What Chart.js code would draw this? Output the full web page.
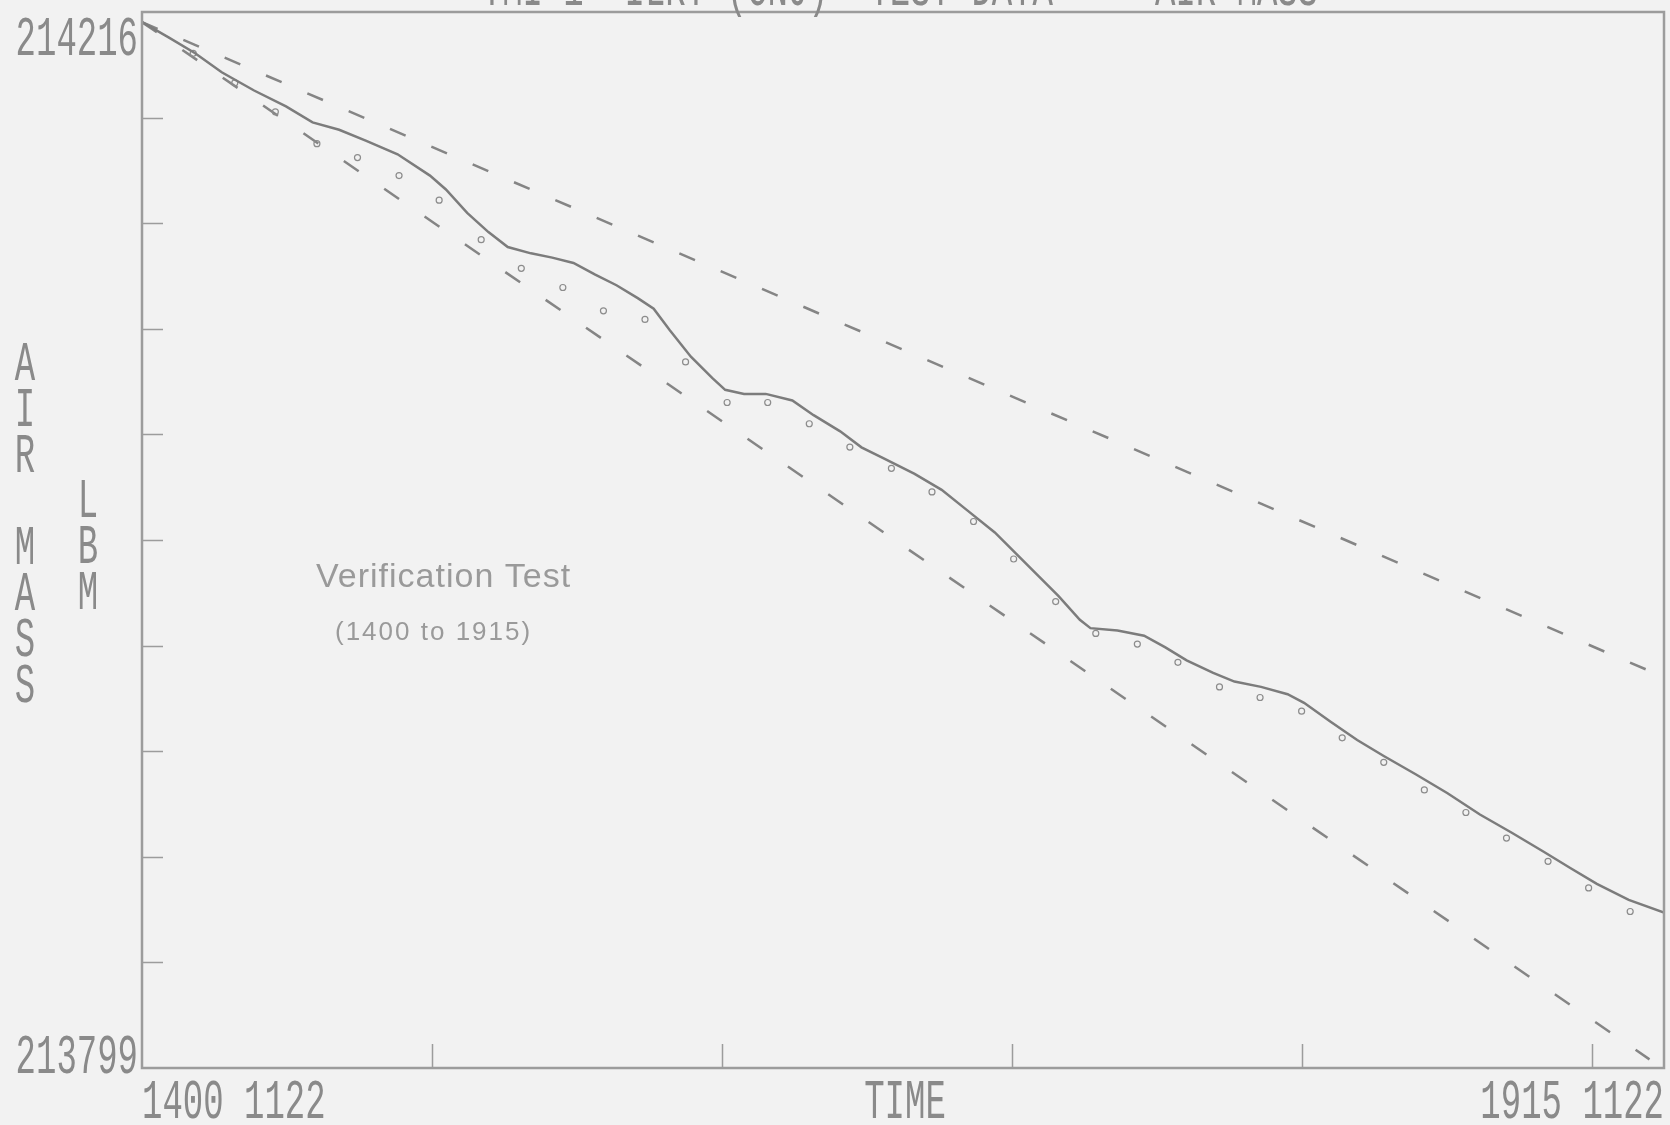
<!DOCTYPE html>
<html>
<head>
<meta charset="utf-8">
<script src="https://cdn.jsdelivr.net/npm/chart.js@4.4.1/dist/chart.umd.min.js"></script>
<style>
  html, body { margin: 0; padding: 0; background: #f2f2f2; }
  #wrap { width: 1670px; height: 1125px; }
</style>
</head>
<body>
<div id="wrap"><canvas id="c" width="1670" height="1125"></canvas></div>
<script>
// ---------- text ----------
const titleText = "TMI 1  ILRT (CNJ)  TEST DATA  -  AIR MASS";
const yAxisTitle = "AIR MASS";
const yUnitTitle = "LBM";
const xAxisTitle = "TIME";
const xStartLabel = "1400 1122";
const xEndLabel = "1915 1122";
const noteTitle = "Verification Test";
const noteSub = "(1400 to 1915)";

// ---------- axes (x in minutes after 1400) ----------
const yMin = 213799;
const yMax = 214216;
const xMin = 0;
const xMax = 315;
const yTopLabel = "214216";
const yBottomLabel = "213799";
const xTickValues = [60, 120, 180, 240, 300];
const yTickValues = [213840.7, 213882.4, 213924.1, 213965.8, 214007.5, 214049.2, 214090.9, 214132.6, 214174.3];

// ---------- measured air mass (solid trace) ----------
const measuredTime = [0, 5.5, 11.0, 16.5, 23.2, 29.8, 35.3, 40.8, 46.3, 52.9, 59.6, 62.9, 67.3, 71.7, 75.7,
  80.5, 84.9, 89.3, 93.8, 98.2, 102.6, 105.9, 109.2, 113.6, 118.0, 120.7, 124.6, 129.1, 134.6, 139.0,
  144.5, 148.9, 153.3, 159.9, 165.5, 171.0, 176.5, 180.9, 185.3, 189.7, 194.1, 196.3, 201.9, 207.4,
  211.8, 216.2, 221.7, 226.1, 231.6, 237.1, 240.5, 246.0, 251.5, 257.0, 263.6, 270.2, 276.9, 283.5,
  290.1, 295.6, 301.1, 307.7, 315.0];
const measuredMass = [214212.0, 214206.0, 214199.7, 214192.2, 214185.0, 214178.7, 214172.4, 214169.5, 214165.2,
  214159.8, 214151.4, 214145.9, 214136.7, 214129.1, 214123.2, 214120.7, 214119.0, 214116.9, 214112.3,
  214108.1, 214103.0, 214098.8, 214090.4, 214079.9, 214071.5, 214066.8, 214065.2, 214065.2, 214062.6,
  214056.8, 214050.4, 214044.1, 214039.9, 214033.6, 214027.3, 214018.9, 214010.5, 214002.1, 213993.7,
  213985.3, 213976.0, 213972.7, 213971.8, 213969.7, 213965.1, 213960.0, 213955.0, 213951.6, 213949.5,
  213946.6, 213943.2, 213935.7, 213928.5, 213922.2, 213915.0, 213907.5, 213899.1, 213891.9, 213884.4,
  213878.0, 213871.7, 213865.4, 213860.4];

// ---------- sampled points (small markers) ----------
const pointTime = [10.6, 19.2, 27.6, 36.2, 44.6, 53.2, 61.5, 70.2, 78.5, 87.1, 95.5, 104.1, 112.5, 121.1,
  129.5, 138.1, 146.5, 155.1, 163.5, 172.1, 180.4, 189.1, 197.4, 206.0, 214.4, 223.0, 231.4, 240.0,
  248.4, 257.0, 265.4, 274.0, 282.4, 291.0, 299.4, 308.0];
const pointMass = [214199.7, 214188.0, 214176.6, 214164.0, 214158.5, 214151.4, 214141.7, 214126.1, 214114.8,
  214107.2, 214098.0, 214094.6, 214077.8, 214061.8, 214061.8, 214053.4, 214044.2, 214035.8, 214026.5,
  214014.8, 214000.0, 213983.2, 213970.6, 213966.4, 213959.2, 213949.5, 213945.3, 213939.9, 213929.4,
  213919.7, 213908.8, 213899.9, 213889.8, 213880.6, 213870.1, 213860.8];

// ---------- limit lines (dashed) ----------
const limitTime = [0, 312];
const upperLimitMass = [214212.0, 213955.8];
const lowerLimitMass = [214212.0, 213802.4];

const toXY = (xs, ys) => xs.map((x, i) => ({ x: x, y: ys[i] }));

const INK = '#8a8a8a';
const MONO = '"Liberation Mono", "DejaVu Sans Mono", monospace';

function stretchText(ctx, text, x, y, align, sy) {
  ctx.save();
  ctx.translate(x, y);
  ctx.scale(1, sy);
  ctx.textAlign = align;
  ctx.textBaseline = 'alphabetic';
  ctx.fillText(text, 0, 0);
  ctx.restore();
}

const decor = {
  id: 'decor',
  beforeDraw(chart) {
    const ctx = chart.ctx;
    ctx.save();
    ctx.fillStyle = '#f2f2f2';
    ctx.fillRect(0, 0, chart.width, chart.height);
    ctx.restore();
  },
  afterDatasetsDraw(chart) {
    const ctx = chart.ctx;
    const { left, right, top, bottom } = chart.chartArea;
    const xs = chart.scales.x, ys = chart.scales.y;
    ctx.save();
    // frame
    ctx.strokeStyle = '#9c9c9c';
    ctx.lineWidth = 2.5;
    ctx.strokeRect(left, top, right - left, bottom - top);
    // inward tick marks
    ctx.lineWidth = 1.5;
    ctx.beginPath();
    yTickValues.forEach(v => {
      const py = Math.round(ys.getPixelForValue(v)) + 0.5;
      ctx.moveTo(left, py); ctx.lineTo(left + 21, py);
    });
    xTickValues.forEach(v => {
      const px = Math.round(xs.getPixelForValue(v)) + 0.5;
      ctx.moveTo(px, bottom); ctx.lineTo(px, bottom - 24);
    });
    ctx.stroke();

    // labels
    ctx.fillStyle = INK;
    ctx.font = '34px ' + MONO;
    stretchText(ctx, yTopLabel, left - 4, ys.getPixelForValue(yMax) + 43, 'right', 1.65);
    stretchText(ctx, yBottomLabel, left - 4, ys.getPixelForValue(yMin) + 5, 'right', 1.65);
    stretchText(ctx, xStartLabel, xs.getPixelForValue(xMin), bottom + 50, 'left', 1.65);
    stretchText(ctx, xEndLabel, xs.getPixelForValue(xMax), bottom + 50, 'right', 1.65);
    stretchText(ctx, xAxisTitle, (left + right) / 2 + 2, bottom + 50, 'center', 1.65);
    // vertical stacked axis titles
    [...yAxisTitle].forEach((ch, i) => stretchText(ctx, ch, 25, 380 + i * 46, 'center', 1.65));
    [...yUnitTitle].forEach((ch, i) => stretchText(ctx, ch, 88, 517 + i * 46, 'center', 1.65));
    // title (cut off at the top edge, as in the scan)
    ctx.font = '34px ' + MONO;
    stretchText(ctx, titleText, 900, 5, 'center', 1.65);

    // annotation
    ctx.fillStyle = '#9a9a9a';
    ctx.font = '34px "Liberation Sans", Arial, sans-serif';
    ctx.letterSpacing = '1px';
    ctx.textAlign = 'left';
    ctx.fillText(noteTitle, 316, 587);
    ctx.font = '26px "Liberation Sans", Arial, sans-serif';
    ctx.letterSpacing = '2px';
    ctx.fillText(noteSub, 335, 640);
    ctx.letterSpacing = '0px';
    ctx.restore();
  }
};

new Chart(document.getElementById('c'), {
  type: 'line',
  data: {
    datasets: [
      {
        label: 'Measured air mass',
        data: toXY(measuredTime, measuredMass),
        borderColor: '#7c7c7c',
        borderWidth: 2.5,
        pointRadius: 0,
        tension: 0
      },
      {
        label: 'Sampled points',
        data: toXY(pointTime, pointMass),
        showLine: false,
        pointStyle: 'circle',
        pointRadius: 3,
        pointBorderWidth: 1.2,
        pointBorderColor: '#8c8c8c',
        pointBackgroundColor: 'rgba(0,0,0,0)'
      },
      {
        label: 'Upper limit',
        data: toXY(limitTime, upperLimitMass),
        borderColor: '#858585',
        borderWidth: 2.5,
        borderDash: [17, 28],
        pointRadius: 0,
        tension: 0
      },
      {
        label: 'Lower limit',
        data: toXY(limitTime, lowerLimitMass),
        borderColor: '#858585',
        borderWidth: 2.5,
        borderDash: [18, 31],
        pointRadius: 0,
        tension: 0
      }
    ]
  },
  options: {
    responsive: false,
    animation: false,
    devicePixelRatio: 1,
    layout: { padding: { left: 142, top: 12, right: 6, bottom: 57 } },
    plugins: { legend: { display: false }, tooltip: { enabled: false }, title: { display: false } },
    scales: {
      x: { type: 'linear', min: xMin, max: xMax, display: false },
      y: { type: 'linear', min: yMin, max: yMax, display: false }
    }
  },
  plugins: [decor]
});
</script>
</body>
</html>
